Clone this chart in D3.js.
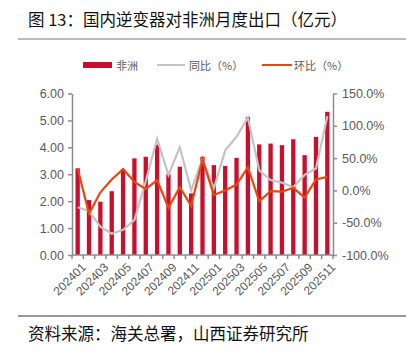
<!DOCTYPE html>
<html>
<head>
<meta charset="utf-8">
<script src="https://cdn.jsdelivr.net/npm/d3@7"></script>
<style>
  body { margin: 0; background: #fff; }
  svg { display: block; }
</style>
</head>
<body>
<div id="chart"></div>
<script>
// months on the x axis
const months = ['202401','202402','202403','202404','202405','202406','202407','202408','202409','202410','202411','202412',
                '202501','202502','202503','202504','202505','202506','202507','202508','202509','202510','202511'];
// 非洲 export value (亿元)
const africa = [3.22, 2.04, 1.98, 2.37, 3.19, 3.59, 3.65, 4.1, 3.0, 3.28, 2.29, 3.65,
                3.34, 3.31, 3.61, 5.13, 4.11, 4.14, 4.08, 4.30, 3.71, 4.39, 5.32];
// 同比 (%)
const yoy = [-26, -32, -56, -67, -61, -46, 14, 80, 24, 67, 0, 49,
             3, 62, 83, 113, 31, 16, 12, 5, 24, 34, 115];
// 环比 (%)
const mom = [34, -36, -3, 17, 33, 13, 2, 16, -27, 5, -24, 48,
             -7, 0, 9, 36, -17, -1, -2, 4, -11, 17, 21];
const leftTicks = [0, 1, 2, 3, 4, 5, 6];
const rightTicks = [-100, -50, 0, 50, 100, 150];

const W = 406, H = 352;
const svg = d3.select('#chart').append('svg')
    .attr('width', W).attr('height', H);

const cjk = '"Noto Sans CJK SC", "Noto Sans", sans-serif';
const num = '"Liberation Sans", Arial, sans-serif';

// title and rules
svg.append('text')
    .attr('x', 28).attr('y', 26)
    .style('font-family', cjk).style('font-size', '16.5px').style('fill', '#111')
    .text('图 13：国内逆变器对非洲月度出口（亿元）');
svg.append('line').attr('x1', 18).attr('x2', W).attr('y1', 39).attr('y2', 39)
    .style('stroke', '#777').style('stroke-width', 1);
svg.append('line').attr('x1', 18).attr('x2', W).attr('y1', 316).attr('y2', 316)
    .style('stroke', '#333').style('stroke-width', 1);
svg.append('text')
    .attr('x', 28).attr('y', 340)
    .style('font-family', cjk).style('font-size', '16.5px').style('fill', '#111')
    .text('资料来源：海关总署，山西证券研究所');

// scales
const x = d3.scaleBand().domain(months).range([72, 333]).paddingInner(0.62).paddingOuter(0.31);
const edge = d3.scaleBand().domain(months).range([72, 333]);
const yL = d3.scaleLinear().domain([0, 6]).range([255, 93.5]);
const yR = d3.scaleLinear().domain([-100, 150]).range([255, 93.5]);
const cx = d => x(d) + x.bandwidth() / 2;

const axisColor = '#8c8c8c';
const labelColor = '#595959';

// bars
svg.append('g').selectAll('rect')
    .data(africa)
    .enter().append('rect')
    .attr('x', (d, i) => x(months[i]))
    .attr('width', x.bandwidth())
    .attr('y', d => yL(d))
    .attr('height', d => yL(0) - yL(d))
    .style('fill', '#C8102E');

// lines
const lineR = d3.line()
    .x((d, i) => cx(months[i]))
    .y(d => yR(d));
svg.append('path').datum(yoy)
    .attr('d', lineR)
    .style('fill', 'none').style('stroke', '#C4C4C4').style('stroke-width', 2.2);
svg.append('path').datum(mom)
    .attr('d', lineR)
    .style('fill', 'none').style('stroke', '#E8450F').style('stroke-width', 2.2);

// left axis
const gL = svg.append('g')
    .attr('transform', 'translate(72,0)')
    .call(d3.axisLeft(yL).tickValues(leftTicks).tickFormat(d3.format('.2f')).tickSize(4).tickSizeOuter(0));
// right axis
const gR = svg.append('g')
    .attr('transform', 'translate(333,0)')
    .call(d3.axisRight(yR).tickValues(rightTicks).tickFormat(d => d.toFixed(1) + '%').tickSize(4).tickSizeOuter(0));
[gL, gR].forEach(g => {
    g.select('.domain').style('stroke', axisColor).style('stroke-width', 1.5);
    g.selectAll('.tick line').style('stroke', axisColor).style('stroke-width', 1.5);
    g.selectAll('.tick text').style('font-family', num).style('font-size', '12.5px').style('fill', labelColor);
});
gL.selectAll('.tick text').attr('x', -8);
gR.selectAll('.tick text').attr('x', 9);

// bottom axis: ticks at band edges, labels at band centers
svg.append('line').attr('x1', 72).attr('x2', 333).attr('y1', 255).attr('y2', 255)
    .style('stroke', axisColor).style('stroke-width', 1.5);
svg.append('g').selectAll('line')
    .data(months.concat(['end']))
    .enter().append('line')
    .attr('x1', d => d === 'end' ? 333 : edge(d))
    .attr('x2', d => d === 'end' ? 333 : edge(d))
    .attr('y1', 255).attr('y2', 259)
    .style('stroke', axisColor).style('stroke-width', 1.5);
svg.append('g').selectAll('text')
    .data(months.filter((d, i) => i % 2 === 0))
    .enter().append('text')
    .attr('transform', d => `translate(${cx(d) + 3},${262}) rotate(-45)`)
    .attr('text-anchor', 'end')
    .attr('dy', '0.7em')
    .style('font-family', num).style('font-size', '12px').style('fill', labelColor)
    .text(d => d);

// legend
const lg = svg.append('g').style('font-family', cjk).style('font-size', '11px').style('fill', labelColor);
lg.append('rect').attr('x', 83).attr('y', 62).attr('width', 29).attr('height', 6).style('fill', '#C8102E');
lg.append('text').attr('x', 116).attr('y', 69.5).text('非洲');
lg.append('line').attr('x1', 157).attr('x2', 185).attr('y1', 65).attr('y2', 65)
    .style('stroke', '#C4C4C4').style('stroke-width', 2);
lg.append('text').attr('x', 189).attr('y', 69.5).text('同比（%）');
lg.append('line').attr('x1', 262).attr('x2', 292).attr('y1', 65).attr('y2', 65)
    .style('stroke', '#E8450F').style('stroke-width', 2);
lg.append('text').attr('x', 294).attr('y', 69.5).text('环比（%）');
</script>
</body>
</html>
